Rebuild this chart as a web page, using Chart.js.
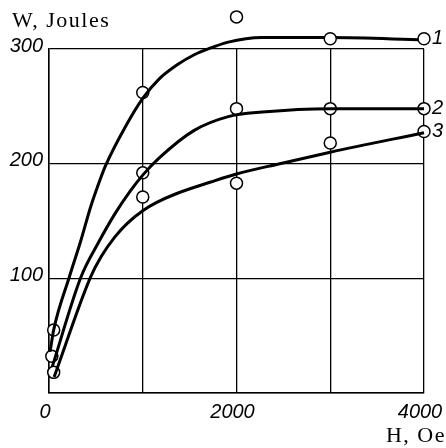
<!DOCTYPE html>
<html>
<head>
<meta charset="utf-8">
<script src="https://cdn.jsdelivr.net/npm/chart.js@4"></script>
<style>
  html, body { margin: 0; padding: 0; background: #fff; }
</style>
</head>
<body>
<canvas id="myChart" width="446" height="448"></canvas>
<script>
// smooth curves (H in Oe, W in Joules)
const hCurve1 = [12, 50, 216, 340, 443, 505, 602, 827, 1000, 1176, 1363, 1549, 1725, 1912, 2100, 2275, 3000, 4000]
const wCurve1 = [36, 55, 101, 133, 162, 177, 198, 234, 257, 274, 286, 295, 301, 306, 309, 310, 310, 308]

const hCurve2 = [35, 340, 526, 701, 866, 1000, 1176, 1549, 1912, 2275, 3000, 4000]
const wCurve2 = [23, 101, 131, 156, 176, 190, 205, 229, 241, 245, 248, 248]

const hCurve3 = [55, 443, 557, 701, 835, 1000, 1144, 1363, 1725, 2000, 2462, 3000, 4000]
const wCurve3 = [14, 101, 119, 136, 148, 159, 166, 174, 184, 191, 200, 210, 227]

// measured points (circles)
const hPoints1 = [50, 1000, 2000, 3000, 4000]
const wPoints1 = [55, 262, 328, 309, 309]
const hPoints2 = [30, 1000, 2000, 3000, 4000]
const wPoints2 = [32, 192, 248, 248, 248]
const hPoints3 = [50, 1000, 2000, 3000, 4000]
const wPoints3 = [18, 171, 183, 218, 228]

const curveNames = ['1', '2', '3']

const toXY = (xs, ys) => xs.map((x, i) => ({ x: x, y: ys[i] }))

const curveSet = (xs, ys) => ({
    type: 'line',
    data: toXY(xs, ys),
    borderColor: '#000',
    borderWidth: 3,
    pointRadius: 0,
    cubicInterpolationMode: 'monotone',
    clip: false,
})

const pointSet = (xs, ys) => ({
    type: 'scatter',
    data: toXY(xs, ys),
    showLine: false,
    pointRadius: 6,
    pointBorderWidth: 1.5,
    pointBackgroundColor: '#fff',
    pointBorderColor: '#000',
    clip: false,
})

// points above the top of the axis are skipped by Chart.js, draw them anyway
const outsidePoints = {
    id: 'outsidePoints',
    afterDatasetsDraw(chart) {
        const a = chart.chartArea
        const whole = { left: 0, top: 0, right: chart.width, bottom: chart.height }
        for (let i = 3; i < 6; i++) {
            chart.getDatasetMeta(i).data.forEach((el) => {
                if (el.y < a.top - 6 || el.x > a.right + 6) el.draw(chart.ctx, whole)
            })
        }
    }
}

const extraText = {
    id: 'extraText',
    afterDraw(chart) {
        const ctx = chart.ctx
        ctx.save()
        ctx.fillStyle = '#000'
        ctx.textBaseline = 'middle'
        ctx.font = '22px "Liberation Serif"'
        ctx.letterSpacing = '1.5px'
        ctx.textAlign = 'left'
        ctx.fillText('W, Joules', 12, 21)
        ctx.textAlign = 'right'
        ctx.fillText('H, Oe', 446, 436)
        ctx.letterSpacing = '0px'
        ctx.font = 'italic 20px "Liberation Sans"'
        ctx.textAlign = 'left'
        curveNames.forEach((name, i) => {
            const meta = chart.getDatasetMeta(3 + i)
            const pt = meta.data[meta.data.length - 1]
            ctx.fillText(name, pt.x + 8, pt.y)
        })
        ctx.restore()
    }
}

const tickFont = { family: 'Liberation Sans', size: 20, style: 'italic' }

const config = {
    data: {
        datasets: [
            curveSet(hCurve1, wCurve1),
            curveSet(hCurve2, wCurve2),
            curveSet(hCurve3, wCurve3),
            pointSet(hPoints1, wPoints1),
            pointSet(hPoints2, wPoints2),
            pointSet(hPoints3, wPoints3),
        ]
    },
    options: {
        responsive: false,
        animation: false,
        layout: { padding: { top: 49, right: 22, left: 0, bottom: 0 } },
        plugins: {
            legend: { display: false },
            tooltip: { enabled: false },
        },
        scales: {
            x: {
                type: 'linear',
                min: 0,
                max: 4000,
                afterFit: (scale) => {
                    scale.height = 55
                    scale.paddingLeft = 0
                    scale.paddingRight = 0
                },
                grid: { color: '#000', lineWidth: 1.3, drawTicks: false },
                border: { color: '#000', width: 1.5 },
                ticks: {
                    stepSize: 1000,
                    padding: 7,
                    labelOffset: -4,
                    color: '#000',
                    font: tickFont,
                    callback: (v) => (v % 2000 === 0 ? String(v) : ''),
                },
            },
            y: {
                min: 0,
                max: 300,
                afterFit: (scale) => {
                    scale.width = 49
                    scale.paddingTop = 0
                    scale.paddingBottom = 0
                },
                grid: { color: '#000', lineWidth: 1.3, drawTicks: false },
                border: { color: '#000', width: 1.5 },
                ticks: {
                    stepSize: 100,
                    padding: 6,
                    labelOffset: -3,
                    color: '#000',
                    font: tickFont,
                    callback: (v) => (v === 0 ? '' : String(v)),
                },
            },
        },
    },
    plugins: [outsidePoints, extraText],
}

const myChart = new Chart(document.getElementById('myChart'), config)
</script>
</body>
</html>
